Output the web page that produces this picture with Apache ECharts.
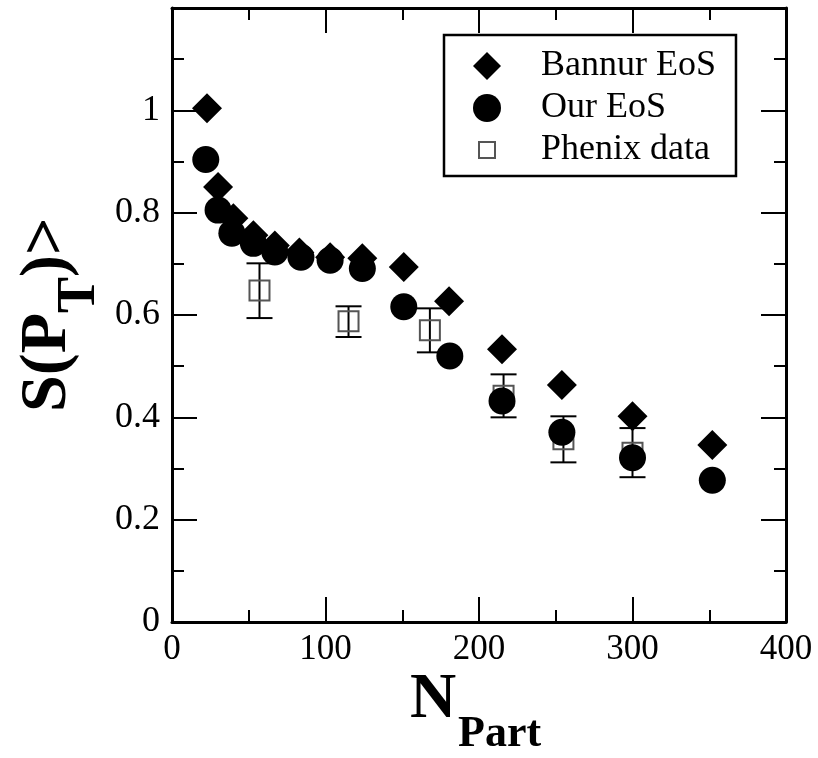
<!DOCTYPE html>
<html>
<head>
<meta charset="utf-8">
<script src="https://cdn.jsdelivr.net/npm/echarts@6/dist/echarts.min.js"></script>
<style>
  html, body { margin: 0; padding: 0; background: #fff; }
  #chart { width: 818px; height: 758px; }
</style>
</head>
<body>
<div id="chart"></div>
<script>
// values
const bannurX = [22.8, 30, 40, 53, 67, 83, 103, 124, 151, 180.5, 215, 254, 300, 352];
const bannurY = [1.004, 0.85, 0.789, 0.756, 0.736, 0.722, 0.713, 0.711, 0.694, 0.627, 0.533, 0.463, 0.402, 0.346];

const ourX = [22, 30, 39, 53, 67, 84, 103, 124, 151, 181, 215, 254, 300, 352];
const ourY = [0.904, 0.805, 0.76, 0.74, 0.723, 0.713, 0.707, 0.691, 0.616, 0.52, 0.432, 0.371, 0.321, 0.277];

const phenixX = [57, 115, 168, 216, 255, 300];
const phenixY = [0.648, 0.588, 0.570, 0.442, 0.357, 0.331];
const phenixLo = [0.594, 0.557, 0.527, 0.400, 0.312, 0.283];
const phenixHi = [0.701, 0.617, 0.613, 0.484, 0.402, 0.379];

const seriesNames = ["Bannur EoS", "Our EoS", "Phenix data"];

const FONT = "Liberation Serif";

function pairs(xs, ys) {
  return xs.map((x, i) => [x, ys[i]]);
}

const errData = phenixX.map((x, i) => [x, phenixLo[i], phenixHi[i]]);

function renderErr(params, api) {
  const top = api.coord([api.value(0), api.value(2)]);
  const bot = api.coord([api.value(0), api.value(1)]);
  const hw = 13;
  const st = { stroke: "#000", lineWidth: 2 };
  return {
    type: "group",
    children: [
      { type: "line", shape: { x1: top[0], y1: top[1], x2: bot[0], y2: bot[1] }, style: st },
      { type: "line", shape: { x1: top[0] - hw, y1: top[1], x2: top[0] + hw, y2: top[1] }, style: st },
      { type: "line", shape: { x1: bot[0] - hw, y1: bot[1], x2: bot[0] + hw, y2: bot[1] }, style: st }
    ]
  };
}

const frameLine = { show: true, onZero: false, lineStyle: { color: "#000", width: 3 } };
const majorTick = { show: true, inside: true, length: 25, lineStyle: { color: "#000", width: 2 } };
const minorTick = { show: true, splitNumber: 2, length: 12, lineStyle: { color: "#000", width: 2 } };

function yLabel(v) {
  if (v > 1.05) return "";
  return String(+v.toFixed(1));
}

var myChart = echarts.init(document.getElementById("chart"), null, { renderer: "canvas" });

let option = {
  animation: false,
  backgroundColor: "#fff",
  grid: { left: 172, right: 32, top: 8, bottom: 136 },
  xAxis: [
    {
      type: "value", position: "bottom", min: 0, max: 400, interval: 100,
      axisLine: frameLine, axisTick: majorTick, minorTick: minorTick,
      splitLine: { show: false },
      axisLabel: { color: "#000", fontFamily: FONT, fontSize: 35, margin: 10 }
    },
    {
      type: "value", position: "top", min: 0, max: 400, interval: 100,
      axisLine: frameLine, axisTick: majorTick, minorTick: minorTick,
      splitLine: { show: false }, axisLabel: { show: false }
    }
  ],
  yAxis: [
    {
      type: "value", position: "left", min: 0, max: 1.2, interval: 0.2,
      axisLine: frameLine, axisTick: majorTick, minorTick: minorTick,
      splitLine: { show: false },
      axisLabel: { color: "#000", fontFamily: FONT, fontSize: 36, margin: 12, formatter: yLabel }
    },
    {
      type: "value", position: "right", min: 0, max: 1.2, interval: 0.2,
      axisLine: frameLine, axisTick: majorTick, minorTick: minorTick,
      splitLine: { show: false }, axisLabel: { show: false }
    }
  ],
  legend: {
    orient: "vertical",
    left: 444, top: 35,
    padding: [13, 20, 8, 28],
    itemWidth: 28, itemHeight: 28, itemGap: 6,
    borderColor: "#000", borderWidth: 2.5,
    backgroundColor: "#fff",
    selectedMode: false,
    textStyle: { color: "#000", fontFamily: FONT, fontSize: 36, lineHeight: 28, padding: [0, 0, 0, 35] },
    data: [
      { name: seriesNames[0] },
      { name: seriesNames[1] },
      { name: seriesNames[2], icon: "path://M0,0M28,28M6,6h16v16h-16z" }
    ]
  },
  graphic: [
    { type: "text", x: 410, y: 700, style: { text: "N", fontFamily: FONT, fontWeight: "bold", fontSize: 64, fill: "#000", align: "left", verticalAlign: "middle" } },
    { type: "text", x: 458, y: 735, style: { text: "Part", fontFamily: FONT, fontWeight: "bold", fontSize: 44, fill: "#000", align: "left", verticalAlign: "middle" } },
    { type: "text", x: 48, y: 412, rotation: Math.PI / 2, style: { text: "S(P", fontFamily: FONT, fontWeight: "bold", fontSize: 66, fill: "#000", align: "left", verticalAlign: "middle" } },
    { type: "text", x: 80, y: 313, rotation: Math.PI / 2, style: { text: "T", fontFamily: FONT, fontWeight: "bold", fontSize: 54, fill: "#000", align: "left", verticalAlign: "middle" } },
    { type: "text", x: 48, y: 277, rotation: Math.PI / 2, style: { text: ")>", fontFamily: FONT, fontWeight: "bold", fontSize: 66, fill: "#000", align: "left", verticalAlign: "middle" } }
  ],
  series: [
    {
      name: seriesNames[0], type: "scatter", symbol: "diamond", symbolSize: 30, z: 2,
      symbolKeepAspect: true,
      itemStyle: { color: "#000", opacity: 1 },
      data: pairs(bannurX, bannurY)
    },
    {
      name: seriesNames[2], type: "scatter", symbol: "rect", symbolSize: 20, z: 3,
      itemStyle: { color: "transparent", borderColor: "#555", borderWidth: 2, opacity: 1 },
      data: pairs(phenixX, phenixY)
    },
    {
      name: "err", type: "custom", renderItem: renderErr, z: 3,
      encode: { x: 0, y: [1, 2] },
      data: errData
    },
    {
      name: seriesNames[1], type: "scatter", symbol: "circle", symbolSize: 27, z: 4,
      itemStyle: { color: "#000", opacity: 1 },
      data: pairs(ourX, ourY)
    }
  ]
};
myChart.setOption(option);
</script>
</body>
</html>
